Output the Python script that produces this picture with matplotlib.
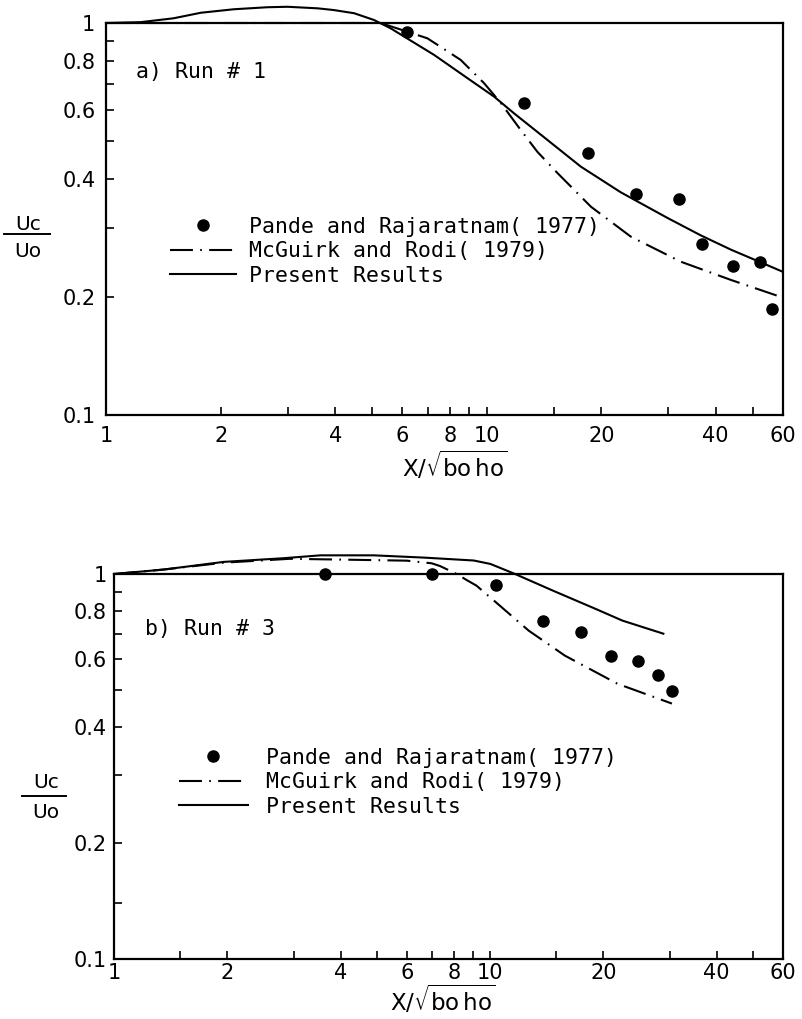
import matplotlib
matplotlib.use("Agg")
import matplotlib.pyplot as plt
from matplotlib.lines import Line2D
from matplotlib.ticker import NullFormatter
from matplotlib.font_manager import FontProperties

plt.rcParams['mathtext.fontset'] = 'dejavusans'

# ---------------- data ----------------
legend_labels = ["Pande and Rajaratnam( 1977)", "McGuirk and Rodi( 1979)", "Present Results"]
panel_titles = ["a) Run # 1", "b) Run # 3"]

x_major = [1, 2, 4, 6, 8, 10, 20, 40, 60]
x_major_labels = ["1", "2", "4", "6", "8", "10", "20", "40", "60"]
x_minor_a = [3, 5, 7, 9, 15, 30, 50]
x_minor_b = [1.5, 3, 5, 7, 9, 15, 30, 50]
y_major = [0.1, 0.2, 0.4, 0.6, 0.8, 1.0]
y_major_labels = ["0.1", "0.2", "0.4", "0.6", "0.8", "1"]
y_minor_a = [0.3, 0.5, 0.7, 0.9]
y_minor_b = [0.14, 0.3, 0.5, 0.7, 0.9]

# Panel a: Run # 1
a_pande_x = [6.18, 12.49, 18.41, 24.66, 31.96, 36.9, 44.5, 52.4, 56.2]
a_pande_y = [0.950, 0.626, 0.465, 0.366, 0.355, 0.273, 0.240, 0.246, 0.186]

a_mcg_x = [1.0, 5.26, 6.98, 8.54, 9.84, 10.9, 12.29, 13.59, 15.35, 18.78, 23.93, 32.4, 43.9, 59.4]
a_mcg_y = [1.0, 1.0, 0.914, 0.805, 0.702, 0.624, 0.533, 0.469, 0.414, 0.340, 0.285, 0.246, 0.221, 0.200]

a_pres_x = [1.0, 1.23, 1.50, 1.77, 2.16, 2.65, 2.99, 3.59, 3.96, 4.48, 5.05, 5.59, 7.27, 8.90,
            10.45, 11.8, 14.44, 17.68, 22.5, 29.9, 36.6, 43.9, 52.6, 60.0]
a_pres_y = [1.0, 1.005, 1.028, 1.062, 1.084, 1.097, 1.100, 1.090, 1.079, 1.059, 1.018, 0.969, 0.829, 0.723,
            0.649, 0.588, 0.503, 0.430, 0.370, 0.318, 0.287, 0.264, 0.245, 0.232]

# Panel b: Run # 3
b_pande_x = [3.64, 6.99, 10.39, 13.79, 17.47, 20.92, 24.7, 28.0, 30.5]
b_pande_y = [1.0, 1.0, 0.937, 0.754, 0.709, 0.613, 0.596, 0.547, 0.498]

b_mcg_x = [1.0, 1.355, 1.957, 2.93, 4.0, 6.0, 6.99, 7.35, 8.15, 8.65, 9.19, 10.36, 12.65, 15.79, 21.78, 30.4]
b_mcg_y = [1.0, 1.027, 1.07, 1.095, 1.09, 1.083, 1.066, 1.049, 1.0, 0.965, 0.933, 0.844, 0.713, 0.614, 0.519, 0.461]

b_pres_x = [1.0, 1.355, 1.957, 2.826, 3.535, 4.90, 6.66, 9.04, 10.01, 11.56, 14.69, 19.1, 22.45, 28.85]
b_pres_y = [1.0, 1.027, 1.075, 1.099, 1.118, 1.118, 1.103, 1.084, 1.062, 1.003, 0.905, 0.811, 0.757, 0.700]

# ---------------- layout helpers ----------------
W, H = 803, 1019
def fx(px):
    return px / W
def fy(py):
    return 1 - py / H

fig = plt.figure(figsize=(8.03, 10.19), dpi=100)

mono = FontProperties(family='DejaVu Sans Mono', size=15.5)
TICK_FS = 15
LW = 1.5
DASHDOT = (0, (11, 3.5, 0.8, 3.5))

panels = [
    dict(rect=[fx(106.5), fy(415), 676.2 / W, 392 / H],
         px=a_pande_x, py=a_pande_y, mx=a_mcg_x, my=a_mcg_y, sx=a_pres_x, sy=a_pres_y,
         xminor=x_minor_a, yminor=y_minor_a, xpad=8, ypad=8, title=panel_titles[0],
         title_xy=(136, 78),
         leg_anchor=(170, 217), leg_hl=3.07, leg_htp=0.6,
         frac=dict(x=28, uc=230, line=234, uo=257, x0=4, x1=50),
         xlabel_xy=(455, 466)),
    dict(rect=[fx(114), fy(959.3), 669 / W, 385.3 / H],
         px=b_pande_x, py=b_pande_y, mx=b_mcg_x, my=b_mcg_y, sx=b_pres_x, sy=b_pres_y,
         xminor=x_minor_b, yminor=y_minor_b, xpad=3, ypad=5, title=panel_titles[1],
         title_xy=(145, 635),
         leg_anchor=(179, 748), leg_hl=3.2, leg_htp=0.84,
         frac=dict(x=46, uc=788, line=796, uo=818, x0=22, x1=66),
         xlabel_xy=(443, 1000)),
]

for p in panels:
    ax = fig.add_axes(p['rect'])
    ax.set_xscale('log')
    ax.set_yscale('log')
    ax.set_xlim(1, 60)
    ax.set_ylim(0.1, 1.0)

    h_pts, = ax.plot(p['px'], p['py'], linestyle='none', marker='o', markersize=8,
                     color='black', clip_on=False, zorder=5)
    h_mcg, = ax.plot(p['mx'], p['my'], color='black', lw=LW, linestyle=DASHDOT,
                     clip_on=False, zorder=4)
    h_pres, = ax.plot(p['sx'], p['sy'], color='black', lw=LW, linestyle='-',
                      clip_on=False, zorder=4)

    ax.set_xticks(x_major)
    ax.set_xticklabels(x_major_labels)
    ax.set_xticks(p['xminor'], minor=True)
    ax.xaxis.set_minor_formatter(NullFormatter())
    ax.set_yticks(y_major)
    ax.set_yticklabels(y_major_labels)
    ax.set_yticks(p['yminor'], minor=True)
    ax.yaxis.set_minor_formatter(NullFormatter())

    ax.tick_params(axis='both', which='both', direction='in', length=6, width=1.2,
                   labelsize=TICK_FS, top=False, right=False, colors='black')
    ax.tick_params(axis='x', which='both', pad=p['xpad'])
    ax.tick_params(axis='y', which='both', pad=p['ypad'])
    for s in ax.spines.values():
        s.set_linewidth(1.6)
        s.set_color('black')

    # panel title
    fig.text(fx(p['title_xy'][0]), fy(p['title_xy'][1]), p['title'],
             fontproperties=mono, ha='left', va='baseline')

    # legend
    leg = ax.legend([h_pts, h_mcg, h_pres], legend_labels, loc='upper left',
                    bbox_to_anchor=(fx(p['leg_anchor'][0]), fy(p['leg_anchor'][1])),
                    bbox_transform=fig.transFigure, frameon=False, borderpad=0,
                    borderaxespad=0, handlelength=p['leg_hl'], handletextpad=p['leg_htp'],
                    labelspacing=0.2, prop=mono, numpoints=1)

    # y-axis fraction label Uc / Uo
    f = p['frac']
    fig.text(fx(f['x']), fy(f['uc']), "Uc", fontsize=14.5, ha='center', va='baseline')
    fig.text(fx(f['x']), fy(f['uo']), "Uo", fontsize=14.5, ha='center', va='baseline')
    fig.add_artist(Line2D([fx(f['x0']), fx(f['x1'])], [fy(f['line']), fy(f['line'])],
                          transform=fig.transFigure, color='black', lw=1.4))

    # x-axis label
    fig.text(fx(p['xlabel_xy'][0]), fy(p['xlabel_xy'][1]),
             r'$\mathsf{X}/\sqrt{\mathsf{bo\,ho}}$', fontsize=16.5, ha='center', va='center')

fig.savefig("out.png", dpi=100, facecolor='white')
